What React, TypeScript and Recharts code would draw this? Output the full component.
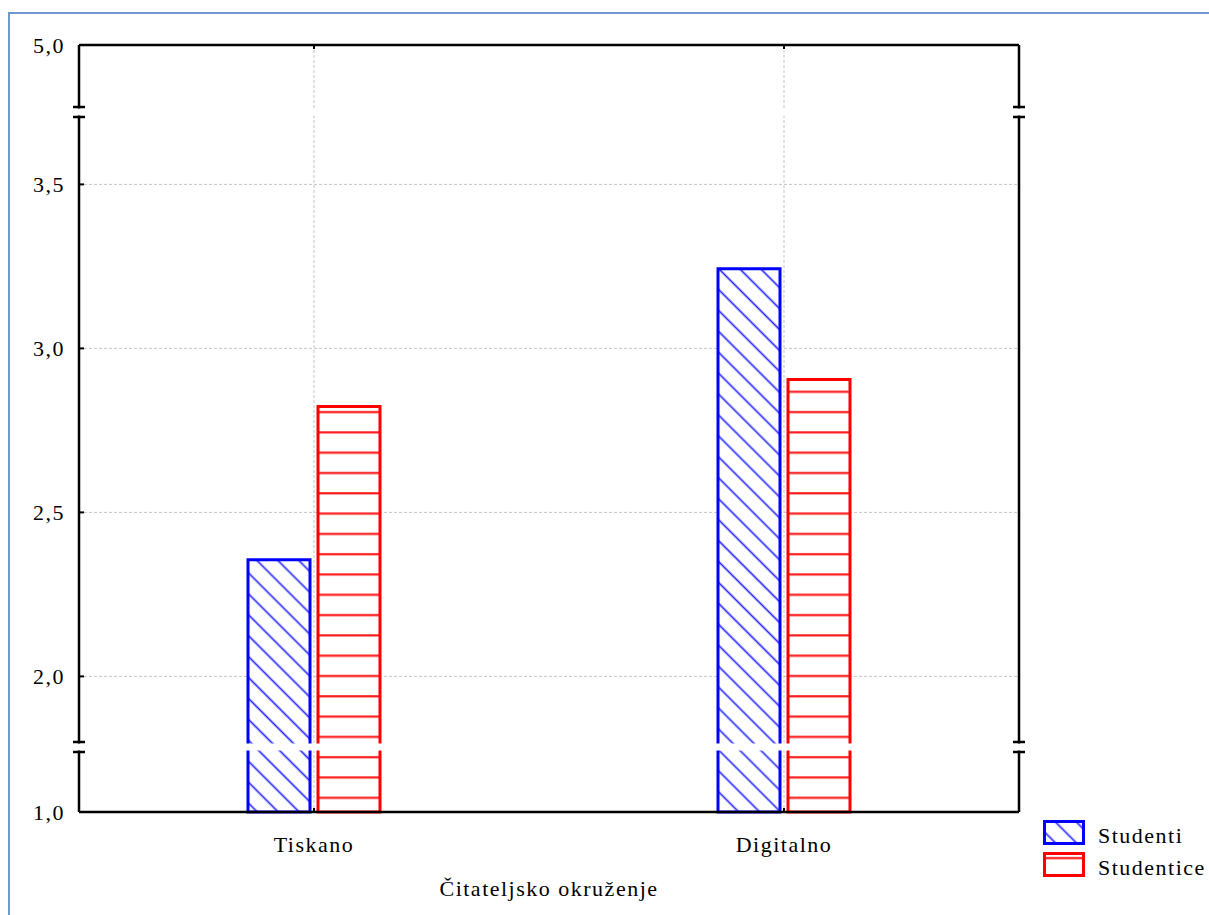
import { BarChart, Bar, XAxis, YAxis, CartesianGrid, ReferenceArea, Legend } from 'recharts'

const categories = ['Tiskano', 'Digitalno']
const studenti = [2.356, 3.243]
const studentice = [2.823, 2.905]

const yTicks = [1.0, 2.0, 2.5, 3.0, 3.5, 5.0]
const yTickLabels = ['1,0', '2,0', '2,5', '3,0', '3,5', '5,0']
const gridValues = [2.0, 2.5, 3.0, 3.5]
const rightTicks = [2.0, 2.333, 2.667, 3.0, 3.333, 3.667]

const xTitle = 'Čitateljsko okruženje'

const series = [
  { key: 'studenti', name: 'Studenti', color: '#0000ff', fill: 'url(#hatchBlue)' },
  { key: 'studentice', name: 'Studentice', color: '#ff0000', fill: 'url(#hatchRed)' },
]

// broken y axis: 1,0-1,8 | 1,8-3,7 | 3,7-5,0, packed into one linear "display" scale
const LOW = 1.0
const BREAK1 = 1.8
const BREAK2 = 3.7055
const HIGH = 5.0
const SEG1 = 60
const GAP = 10
const MID = 625
const SEG3 = 62
const TOP = SEG1 + GAP + MID + GAP + SEG3

function toDisplay(v: number) {
  if (v <= BREAK1) return ((v - LOW) / (BREAK1 - LOW)) * SEG1
  if (v <= BREAK2) return SEG1 + GAP + ((v - BREAK1) / (BREAK2 - BREAK1)) * MID
  return SEG1 + GAP + MID + GAP + ((v - BREAK2) / (HIGH - BREAK2)) * SEG3
}

const breakBands = [
  [SEG1, SEG1 + GAP],
  [SEG1 + GAP + MID, SEG1 + GAP + MID + GAP],
]

const chartData = categories.map((name, i) => ({
  name,
  studenti: toDisplay(studenti[i]),
  studentice: toDisplay(studentice[i]),
}))

const yTickPos = yTicks.map(toDisplay)

const FONT = 'Liberation Serif, DejaVu Serif, serif'
const textStyle = { fontFamily: FONT, letterSpacing: '1.5px' }

const LeftTick = (props: any) => {
  const { x, y, payload } = props
  const i = yTickPos.findIndex((p) => Math.abs(p - payload.value) < 0.01)
  return (
    <g>
      <line x1={x + 14} x2={x + 19} y1={y} y2={y} stroke="#000" strokeWidth={2} />
      <text x={x} y={y} dy="0.35em" textAnchor="end" fontSize={22} fill="#000" fontFamily={FONT} style={textStyle}>
        {yTickLabels[i]}
      </text>
    </g>
  )
}

const RightTick = (props: any) => {
  const { x, y } = props
  return <line x1={x - 5} x2={x} y1={y} y2={y} stroke="#000" strokeWidth={2} />
}

const TopTick = (props: any) => {
  const { x, y } = props
  return <line x1={x} x2={x} y1={y} y2={y + 4} stroke="#000" strokeWidth={2} />
}

const BottomTick = (props: any) => {
  const { x, y, payload } = props
  return (
    <g>
      <line x1={x} x2={x} y1={y - 24} y2={y - 28} stroke="#000" strokeWidth={2} />
      <text x={x} y={y} dy="0.71em" textAnchor="middle" fontSize={22} fill="#000" fontFamily={FONT} style={textStyle}>
        {payload.value}
      </text>
    </g>
  )
}

const BreakMark = (props: any) => {
  const { x, y, width, height } = props
  const caps = []
  for (const cx of [x, x + width]) {
    for (const cy of [y, y + height]) {
      caps.push(<line key={`${cx}-${cy}`} x1={cx - 6} x2={cx + 6} y1={cy} y2={cy} stroke="#000" strokeWidth={2.5} />)
    }
  }
  return (
    <g>
      <rect x={x - 8} y={y + 1.5} width={width + 16} height={height - 3} fill="#fff" />
      {caps}
    </g>
  )
}

const LegendContent = () => (
  <svg width={166} height={64}>
    {series.map((s, i) => (
      <g key={s.key} transform={`translate(0, ${i * 32})`}>
        <rect x={1.5} y={1.5} width={39} height={22} fill={s.fill} stroke={s.color} strokeWidth={3} />
        <text x={55} y={23} fontSize={22} fill="#000" fontFamily={FONT} style={textStyle}>
          {s.name}
        </text>
      </g>
    ))}
  </svg>
)

export default function App() {
  return (
    <div style={{ position: 'absolute', left: 0, top: 0, width: 1209, height: 915, background: '#fff', fontFamily: FONT, overflow: 'hidden' }}>
      <div
        style={{
          position: 'absolute',
          left: 8,
          top: 12,
          right: 0,
          bottom: 0,
          borderLeft: '2px solid #6f98d3',
          borderTop: '2px solid #6f98d3',
        }}
      />
      <svg width={0} height={0} style={{ position: 'absolute' }}>
        <defs>
          <pattern id="hatchBlue" patternUnits="userSpaceOnUse" width={10} height={14.8} patternTransform="rotate(45)">
            <rect width={10} height={14.8} fill="#fff" />
            <line x1={0} x2={10} y1={7.4} y2={7.4} stroke="#2a2aff" strokeWidth={1.7} />
          </pattern>
          <pattern id="hatchRed" patternUnits="userSpaceOnUse" width={10} height={20.3}>
            <rect width={10} height={20.3} fill="#fff" />
            <line x1={0} x2={10} y1={6.1} y2={6.1} stroke="#ff1a1a" strokeWidth={2.2} />
          </pattern>
        </defs>
      </svg>
      <BarChart
        width={1209}
        height={915}
        data={chartData}
        margin={{ top: 40, right: 19, bottom: 17, left: 19 }}
        barSize={62}
        barGap={8}
      >
        <CartesianGrid
          xAxisId="bottom"
          yAxisId="left"
          horizontalValues={gridValues.map(toDisplay)}
          stroke="#c4c4c4"
          strokeDasharray="3 2"
        />
        <XAxis
          xAxisId="bottom"
          dataKey="name"
          height={86}
          axisLine={{ stroke: '#000', strokeWidth: 2.5 }}
          tickLine={false}
          tickSize={0}
          tickMargin={24}
          tick={<BottomTick />}
          interval={0}
          label={{ value: xTitle, position: 'insideBottom', offset: 2, fontSize: 22, fill: '#000', fontFamily: FONT, style: textStyle }}
        />
        <XAxis
          xAxisId="top"
          dataKey="name"
          orientation="top"
          height={5}
          axisLine={{ stroke: '#000', strokeWidth: 2.5 }}
          tickLine={false}
          tickSize={0}
          tickMargin={0}
          tick={<TopTick />}
          interval={0}
        />
        <YAxis
          yAxisId="left"
          type="number"
          domain={[0, TOP]}
          ticks={yTickPos}
          interval={0}
          width={60}
          axisLine={{ stroke: '#000', strokeWidth: 2.5 }}
          tickLine={false}
          tickSize={0}
          tickMargin={14}
          tick={<LeftTick />}
        />
        <YAxis
          yAxisId="right"
          orientation="right"
          type="number"
          domain={[0, TOP]}
          ticks={rightTicks.map(toDisplay)}
          interval={0}
          width={5}
          axisLine={{ stroke: '#000', strokeWidth: 2.5 }}
          tickLine={false}
          tickSize={0}
          tickMargin={0}
          tick={<RightTick />}
        />
        {series.map((s) => (
          <Bar
            key={s.key}
            xAxisId="bottom"
            yAxisId="left"
            dataKey={s.key}
            name={s.name}
            fill={s.fill}
            stroke={s.color}
            strokeWidth={3}
            isAnimationActive={false}
          />
        ))}
        {breakBands.map(([lo, hi]) => (
          <ReferenceArea
            key={lo}
            xAxisId="bottom"
            yAxisId="left"
            y1={lo}
            y2={hi}
            shape={<BreakMark />}
            zIndex={2000}
          />
        ))}
        <Legend
          layout="vertical"
          align="right"
          verticalAlign="bottom"
          content={<LegendContent />}
          wrapperStyle={{ left: 1043, top: 820, width: 166, right: 'auto', bottom: 'auto' }}
        />
      </BarChart>
    </div>
  )
}
